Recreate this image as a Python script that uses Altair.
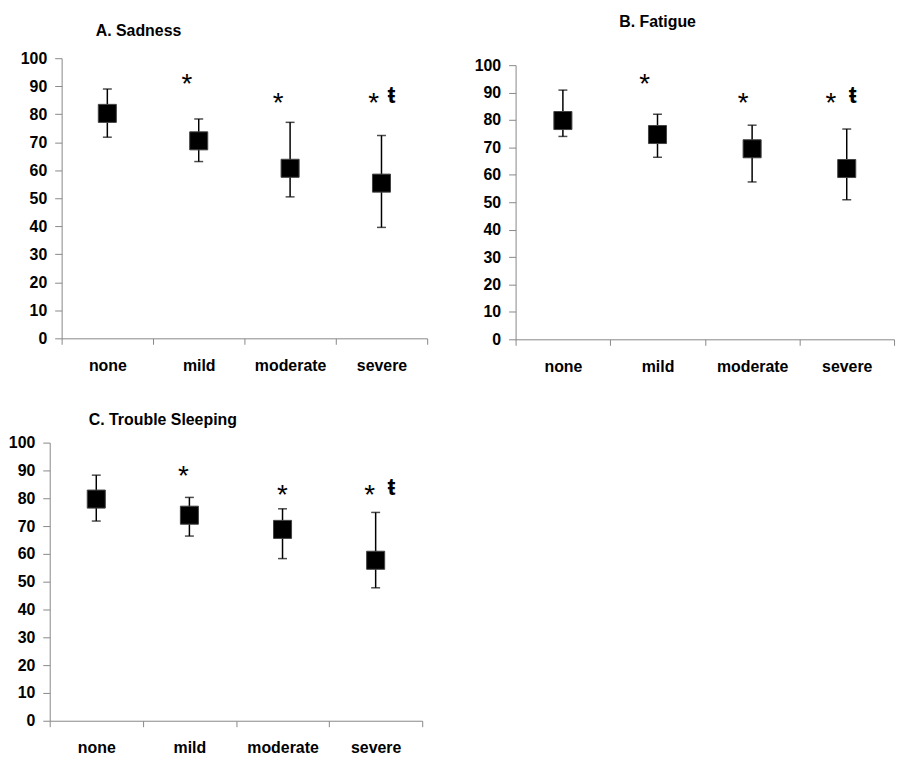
import altair as alt
import pandas as pd

CATS = ["none", "mild", "moderate", "severe"]

# Panel A: Sadness
A_MEAN = [80.3, 70.5, 60.7, 55.4]
A_LO = [71.8, 63.1, 50.5, 39.6]
A_HI = [89.0, 78.3, 77.1, 72.4]
A_STAR_Y = [None, 92.1, 85.3, 85.3]

# Panel B: Fatigue
B_MEAN = [79.8, 74.7, 69.5, 62.3]
B_LO = [74.0, 66.4, 57.4, 50.9]
B_HI = [90.9, 82.1, 78.1, 76.7]
B_STAR_Y = [None, 94.7, 87.7, 87.7]

# Panel C: Trouble Sleeping
C_MEAN = [79.7, 73.9, 68.8, 57.7]
C_LO = [71.8, 66.4, 58.3, 47.8]
C_HI = [88.3, 80.3, 76.2, 74.9]
C_STAR_Y = [None, 89.5, 82.7, 82.7]

STAR = "*"
DAGGER = "ŧ"

FONT = "Liberation Sans"
AXIS_GREY = "#888888"


def panel(title, means, lo, hi, star_y, w, h, title_dx, title_offset,
          star_dx, dag_dx, x_range=None, y_range=None, y_offset=0):
    df = pd.DataFrame({"cat": CATS, "mean": means, "lo": lo, "hi": hi})

    xs = dict(domain=CATS, paddingInner=0, paddingOuter=0)
    if x_range is not None:
        xs["range"] = x_range
    x = alt.X(
        "cat:N",
        sort=CATS,
        scale=alt.Scale(**xs),
        axis=alt.Axis(
            title=None,
            labelAngle=0,
            tickBand="extent",
            tickSize=6,
            tickColor=AXIS_GREY,
            domainColor=AXIS_GREY,
            labelFont=FONT,
            labelFontSize=16,
            labelFontWeight="bold",
            labelColor="black",
            labelPadding=13,
        ),
    )
    ys = dict(domain=[0, 100], nice=False)
    if y_range is not None:
        ys["range"] = y_range
    yscale = alt.Scale(**ys)
    yaxis = alt.Axis(
        title=None,
        values=list(range(0, 101, 10)),
        grid=False,
        tickSize=7,
        tickColor=AXIS_GREY,
        domainColor=AXIS_GREY,
        labelFont=FONT,
        labelFontSize=16,
        labelFontWeight="bold",
        labelColor="black",
        labelPadding=8,
        offset=y_offset,
    )

    base = alt.Chart(df)
    layers = [
        base.mark_rule(color="black", strokeWidth=1.5).encode(
            x=x, y=alt.Y("lo:Q", scale=yscale, axis=yaxis), y2="hi:Q"
        ),
        base.mark_tick(color="black", size=9, thickness=1.5).encode(
            x=x, y=alt.Y("hi:Q", scale=yscale, axis=yaxis)
        ),
        base.mark_tick(color="black", size=9, thickness=1.5).encode(
            x=x, y=alt.Y("lo:Q", scale=yscale, axis=yaxis)
        ),
        base.mark_square(size=330, color="black", opacity=1, stroke="#444444", strokeWidth=1).encode(
            x=x, y=alt.Y("mean:Q", scale=yscale, axis=yaxis)
        ),
    ]
    # significance markers (one layer each so each can have its own nudge)
    k = 0
    for cat, yv in zip(CATS, star_y):
        if yv is None:
            continue
        sdf = pd.DataFrame({"cat": [cat], "y": [yv], "label": [STAR]})
        layers.append(
            alt.Chart(sdf).mark_text(
                font=FONT, fontSize=28, color="black", baseline="middle", dx=star_dx[k], dy=5
            ).encode(x=x, y=alt.Y("y:Q", scale=yscale, axis=yaxis), text="label:N")
        )
        k += 1
    ddf = pd.DataFrame({"cat": [CATS[-1]], "y": [star_y[-1]], "label": [DAGGER]})
    layers.append(
        alt.Chart(ddf).mark_text(
            font=FONT, fontSize=24, fontWeight="bold", color="black", baseline="middle", dx=dag_dx, dy=-3
        ).encode(x=x, y=alt.Y("y:Q", scale=yscale, axis=yaxis), text="label:N")
    )

    return alt.layer(*layers).properties(
        width=w,
        height=h,
        title=alt.TitleParams(
            title,
            anchor="start",
            dx=title_dx,
            offset=title_offset,
            font=FONT,
            fontSize=16,
            fontWeight="bold",
            color="black",
        ),
    )


pa = panel("A. Sadness", A_MEAN, A_LO, A_HI, A_STAR_Y, 368, 282, 76, 11, [-12, -12, -8], 10)
pb = panel("B. Fatigue", B_MEAN, B_LO, B_HI, B_STAR_Y, 381, 283, 146, 27, [-13, -9, -16], 6,
           y_range=[283, 7])
pc = panel("C. Trouble Sleeping", C_MEAN, C_LO, C_HI, C_STAR_Y, 363, 280, 81, 7, [-6, 0, -6], 16,
           x_range=[-12, 363], y_offset=12)

top = alt.hconcat(pa, pb, spacing=46)
chart = (
    alt.vconcat(top, pc, spacing=38)
    .properties(padding={"left": 0, "top": 4, "right": 5, "bottom": 5}, background="white")
    .configure_view(strokeWidth=0, stroke="transparent")
)

chart.save("out.html", embed_options={"renderer": "svg", "actions": False})
